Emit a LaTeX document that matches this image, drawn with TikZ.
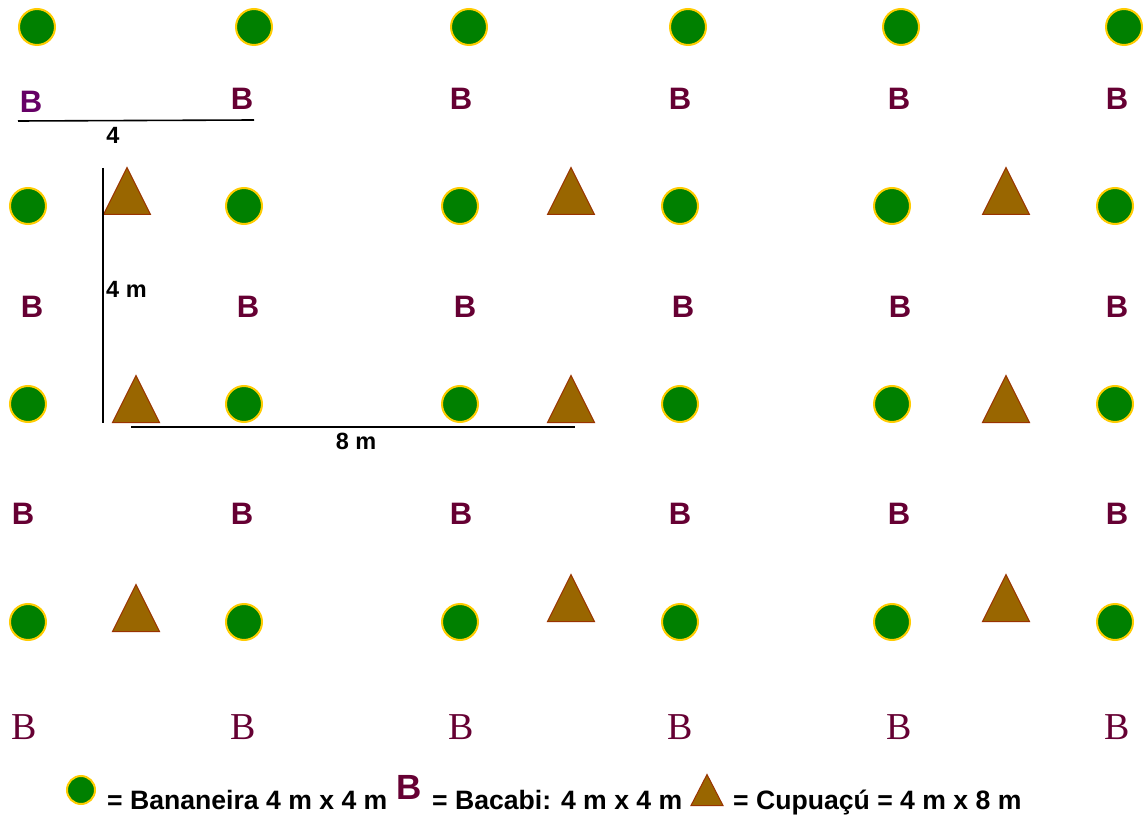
\documentclass[tikz,border=0pt]{standalone}
\usepackage{fontspec}
\setmainfont{Liberation Sans}
\newfontfamily\timesfont{Liberation Serif}
\usetikzlibrary{shapes.geometric}
\definecolor{banana}{HTML}{008000}
\definecolor{bananaring}{HTML}{FFCC00}
\definecolor{cupua}{HTML}{996600}
\definecolor{cupuaedge}{HTML}{993300}
\definecolor{bacabi}{HTML}{660033}
\definecolor{bacabitop}{HTML}{660066}

\begin{document}
\begin{tikzpicture}[x=1pt,y=-1pt,
  banana/.style={circle, fill=banana, draw=bananaring, line width=2pt, minimum size=36pt, inner sep=0pt},
  cupua/.style={isosceles triangle, isosceles triangle stretches, shape border rotate=90, fill=cupua, draw=cupuaedge, line width=1pt, minimum width=47pt, minimum height=47pt, inner sep=0pt, anchor=lower side},
  bacabi/.style={font=\bfseries\fontsize{31}{33}\selectfont, text=bacabi, inner sep=0pt},
  bacabiserif/.style={font=\timesfont\fontsize{38}{40}\selectfont, text=bacabi, inner sep=0pt},
  dimline/.style={black, line width=1.6pt},
  dimlabel/.style={font=\bfseries\fontsize{23.5}{25}\selectfont, inner sep=0pt},
  keytext/.style={font=\bfseries\fontsize{26.6}{28}\selectfont, inner sep=0pt, anchor=base west}]
\fill[white] (0,0) rectangle (1146,818);

% --- Bananeira (circles) ---
\foreach \x [count=\i] in {37,254,469,688,901,1124}
  \node[banana] (ban0\i) at (\x,27) {};
\foreach \y [count=\j] in {206,404,622}
  \foreach \x [count=\i] in {28,244,460,680,892,1115}
    \node[banana] (ban\j\i) at (\x,\y) {};

% --- Bacabi (B) ---
\node[bacabi, text=bacabitop] (bac11) at (31,102) {B};
\foreach \x [count=\i from 2] in {242,461,680,899,1117}
  \node[bacabi] (bac1\i) at (\x,99) {B};
\foreach \x [count=\i] in {32,248,465,683,900,1117}
  \node[bacabi] (bac2\i) at (\x,307) {B};
\foreach \x [count=\i] in {23,242,461,680,899,1117}
  \node[bacabi] (bac3\i) at (\x,514) {B};
\foreach \x [count=\i] in {24,243,461,680,899,1117}
  \node[bacabiserif] (bac4\i) at (\x,727) {B};

% --- Cupuacu (triangles) ---
\node[cupua] (cup11) at (127,215) {};
\node[cupua] (cup12) at (571,215) {};
\node[cupua] (cup13) at (1006,215) {};
\node[cupua] (cup21) at (136,423) {};
\node[cupua] (cup22) at (571,423) {};
\node[cupua] (cup23) at (1006,423) {};
\node[cupua] (cup31) at (136,632) {};
\node[cupua] (cup32) at (571,622) {};
\node[cupua] (cup33) at (1006,622) {};

% --- spacing marks ---
\coordinate (top4a) at (18,121);
\coordinate (top4b) at (254,120);
\draw[dimline] (top4a) -- (top4b);
\node[dimlabel] (lbl4) at (113,135) {4};

\coordinate (vert4a) at (103,168);
\coordinate (vert4b) at (103,423);
\draw[dimline] (vert4a) -- (vert4b);
\node[dimlabel, anchor=west] (lbl4m) at (106,289) {4 m};

\coordinate (hor8a) at (131,427);
\coordinate (hor8b) at (575,427);
\draw[dimline] (hor8a) -- (hor8b);
\node[dimlabel] (lbl8m) at (356,441) {8 m};

% --- legend ---
\node[banana, minimum size=28pt] (keyban) at (81,790) {};
\node[keytext] (keybantxt) at (107,809) {= Bananeira 4 m x 4 m};
\node[bacabi, font=\bfseries\fontsize{35}{37}\selectfont] (keybac) at (409,787) {B};
\node[keytext] (keybactxt) at (432,809) {= Bacabi: 4 m x 4 m};
\node[cupua, minimum width=32pt, minimum height=31pt] (keycup) at (707,806) {};
\node[keytext] (keycuptxt) at (733,809) {= Cupuaçú = 4 m x 8 m};
\end{tikzpicture}
\end{document}
